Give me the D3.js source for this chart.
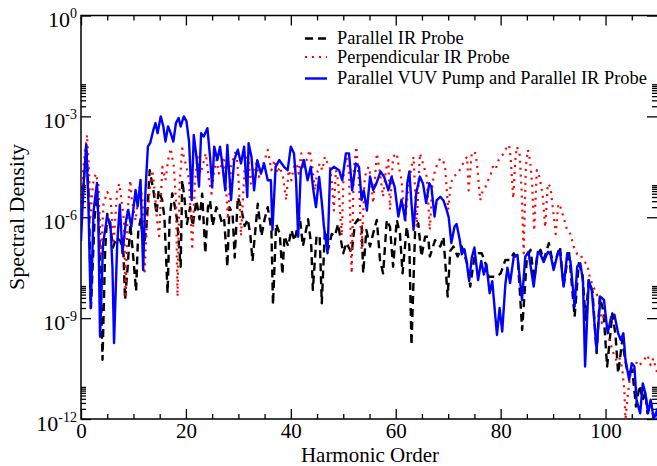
<!DOCTYPE html>
<html>
<head>
<meta charset="utf-8">
<script src="https://cdn.jsdelivr.net/npm/d3@7"></script>
<style>
  body { margin: 0; background: #fff; }
  svg { display: block; font-family: "Liberation Serif", "Times New Roman", serif; }
</style>
</head>
<body>
<script>
// harmonic order, log10(spectral density)
const parallelIR = [
  [0,-6.0],[0.5,-5.0],[1.0,-3.85],[1.5,-5.5],[1.9,-8.7],[2.6,-6.0],[3.05,-5.2],[3.6,-7.0],[4.1,-10.24],[4.6,-7.0],
  [5.0,-5.9],[5.6,-6.3],[6.1,-6.9],[6.75,-6.6],[7.5,-6.7],[8.1,-7.1],[8.4,-8.46],[8.9,-7.47],[9.4,-6.2],[9.9,-7.07],
  [10.5,-8.2],[10.9,-6.46],[11.35,-6.06],[12.0,-6.86],[12.5,-6.26],[13.1,-4.6],[13.8,-5.2],[14.4,-5.9],[14.8,-5.2],[15.5,-5.5],
  [15.9,-6.0],[16.5,-8.26],[16.9,-6.06],[17.4,-5.29],[17.8,-5.6],[18.3,-6.06],[19.0,-7.47],[19.3,-4.9],[19.7,-5.4],[20.2,-6.2],
  [20.8,-5.7],[21.3,-6.26],[22.0,-5.5],[22.6,-6.06],[23.1,-5.3],[23.7,-7.07],[24.2,-5.7],[24.6,-5.5],[25.1,-6.26],[25.8,-5.7],
  [26.4,-5.9],[26.9,-6.2],[27.3,-6.08],[27.9,-7.47],[28.3,-5.7],[28.9,-5.9],[29.3,-7.2],[29.9,-5.4],[30.5,-5.7],[31.2,-6.26],
  [31.8,-6.06],[32.3,-6.56],[32.7,-7.3],[33.7,-5.6],[34.4,-6.56],[35.0,-6.06],[35.6,-5.7],[36.3,-6.38],[36.6,-8.6],[37.2,-6.2],
  [37.9,-6.5],[38.4,-7.7],[38.8,-6.56],[39.5,-6.86],[40.1,-6.38],[40.7,-6.7],[41.7,-5.98],[42.3,-6.86],[43.3,-6.06],[43.9,-6.86],
  [44.2,-8.16],[44.9,-6.56],[45.5,-6.56],[45.9,-8.56],[46.5,-6.38],[47.1,-6.96],[47.8,-6.5],[48.4,-6.56],[49.0,-6.2],[50.0,-7.07],
  [50.6,-6.76],[51.6,-7.07],[52.2,-6.2],[52.8,-6.06],[53.5,-6.26],[53.8,-7.67],[54.4,-6.38],[55.1,-6.87],[55.7,-6.48],[56.4,-6.08],
  [57.0,-7.27],[57.6,-7.67],[58.3,-6.08],[58.9,-6.28],[59.5,-7.47],[60.2,-6.08],[60.8,-6.48],[61.3,-7.67],[62.1,-6.28],[62.6,-6.87],
  [63.0,-9.8],[63.7,-6.38],[64.3,-6.18],[64.9,-7.17],[65.6,-6.58],[66.2,-6.58],[66.5,-7.17],[67.5,-6.68],[68.5,-6.87],[69.1,-6.58],
  [69.9,-8.36],[70.4,-7.0],[71.0,-6.87],[71.8,-7.17],[72.6,-6.87],[73.6,-7.37],[74.2,-8.06],[75.0,-7.17],[75.8,-7.07],[76.4,-7.07],
  [77.1,-7.37],[77.7,-7.77],[78.6,-7.77],[79.3,-7.77],[80.0,-7.67],[80.9,-7.27],[81.8,-7.27],[82.5,-7.07],[83.3,-7.3],[84.1,-9.35],
  [85.0,-7.2],[85.7,-6.97],[86.4,-7.87],[87.0,-7.1],[87.6,-6.97],[88.2,-7.27],[89.2,-6.77],[90.1,-7.47],[91.3,-6.87],[92.0,-8.06],
  [93.0,-6.97],[94.1,-8.96],[94.9,-7.37],[95.6,-7.7],[96.2,-9.05],[96.8,-7.87],[97.5,-8.2],[98.3,-10.04],[98.9,-8.36],[99.6,-8.8],
  [100.3,-10.44],[101.3,-8.86],[101.9,-9.5],[102.4,-10.64],[103.2,-9.65],[103.7,-10.2],[104.2,-10.64],[105.1,-10.54],[105.8,-11.63],[106.5,-11.0],
  [107.1,-11.43],[107.6,-11.2],[108.0,-11.83],[108.6,-11.5],[109.2,-12.0],[110,-12.2]
];
const perpendicularIR = [
  [0,-5.7],[0.4,-4.6],[0.8,-4.0],[1.15,-3.55],[1.5,-4.5],[1.8,-6.0],[2.3,-5.0],[2.8,-4.7],[3.3,-5.0],[3.8,-7.1],
  [4.3,-5.6],[5.0,-5.25],[5.6,-5.4],[6.25,-6.7],[6.9,-5.2],[7.3,-5.0],[7.8,-5.6],[8.2,-6.1],[8.5,-8.4],[8.9,-5.8],
  [9.4,-4.9],[9.7,-5.5],[10.4,-6.1],[10.7,-5.7],[11.3,-5.0],[11.8,-5.6],[12.1,-7.7],[12.6,-6.1],[13.2,-5.0],[13.6,-4.6],
  [14.1,-5.3],[14.5,-6.1],[14.9,-6.56],[15.5,-4.5],[16.1,-4.9],[16.6,-4.3],[17.1,-3.95],[17.7,-4.5],[18.1,-5.5],[18.4,-8.36],
  [18.8,-5.0],[19.3,-3.95],[19.6,-4.2],[20.1,-4.5],[20.6,-4.9],[21.2,-6.97],[21.7,-5.0],[22.2,-4.2],[22.8,-4.7],[23.3,-4.4],
  [23.8,-4.1],[24.4,-4.9],[24.9,-5.3],[25.4,-4.6],[25.8,-4.3],[26.3,-4.7],[26.8,-4.4],[27.3,-4.2],[28.0,-6.06],[28.6,-4.5],
  [29.1,-4.2],[29.6,-4.0],[30.1,-5.0],[30.5,-6.56],[31.2,-4.5],[31.8,-4.1],[32.4,-5.0],[32.9,-4.6],[33.4,-4.4],[33.9,-4.8],
  [34.4,-4.6],[35.0,-4.3],[35.6,-4.0],[36.3,-4.6],[36.9,-4.3],[37.4,-4.7],[37.9,-4.5],[38.5,-4.8],[39.1,-5.49],[39.6,-4.6],
  [40.1,-4.9],[40.6,-4.5],[41.1,-4.4],[41.5,-4.7],[42.0,-4.1],[42.5,-4.5],[43.0,-4.3],[43.6,-4.0],[44.1,-4.5],[44.6,-5.2],
  [45.0,-4.7],[45.5,-4.4],[46.0,-4.6],[46.5,-4.2],[47.0,-4.4],[47.4,-4.5],[47.8,-4.9],[48.2,-5.8],[48.6,-4.6],[49.0,-4.9],
  [49.7,-6.56],[50.1,-4.6],[50.6,-4.2],[51.1,-4.7],[51.6,-7.67],[52.0,-4.6],[52.5,-3.9],[53.0,-5.0],[53.5,-6.96],[54.1,-4.8],
  [54.8,-4.5],[55.1,-4.69],[55.7,-5.58],[56.4,-4.1],[57.0,-4.69],[57.6,-5.39],[58.1,-4.6],[58.6,-4.3],[58.9,-5.78],[59.5,-4.2],
  [60.2,-4.1],[60.6,-4.5],[61.1,-4.89],[61.8,-6.18],[62.4,-5.09],[63.0,-4.5],[63.4,-4.2],[64.0,-6.28],[64.6,-4.1],[65.2,-4.4],
  [65.9,-4.79],[66.5,-6.38],[67.0,-5.0],[67.5,-4.59],[68.0,-4.4],[68.5,-4.25],[69.0,-4.3],[69.4,-4.49],[70.0,-5.78],[70.5,-5.0],
  [71.0,-4.79],[71.9,-4.69],[72.5,-4.5],[73.2,-4.3],[73.6,-4.2],[73.9,-5.2],[74.5,-4.1],[75.1,-4.05],[75.5,-4.4],[76.1,-5.5],
  [76.6,-5.2],[77.1,-5.1],[77.6,-4.9],[78.0,-4.79],[78.5,-4.5],[79.0,-4.59],[79.6,-4.3],[80.1,-4.2],[80.6,-4.1],[81.2,-3.9],
  [81.6,-3.85],[81.9,-4.2],[82.4,-5.44],[82.8,-4.3],[83.1,-3.9],[83.6,-4.1],[84.0,-5.2],[84.4,-7.07],[84.8,-4.5],[85.2,-4.0],
  [85.6,-4.3],[86.0,-5.0],[86.4,-6.4],[86.9,-4.6],[87.4,-4.8],[88.0,-5.3],[88.5,-6.3],[89.0,-5.0],[89.5,-5.1],[90.0,-5.8],
  [90.5,-6.5],[91.0,-5.6],[91.4,-5.7],[92.0,-6.0],[92.7,-6.4],[93.3,-6.5],[94.0,-6.9],[94.6,-7.1],[95.2,-7.1],[95.8,-7.3],
  [96.5,-7.4],[97.1,-7.87],[97.6,-8.0],[98.0,-8.2],[98.7,-8.4],[99.3,-9.15],[99.8,-8.9],[100.3,-9.2],[100.9,-9.74],[101.6,-10.1],
  [102.2,-10.3],[102.7,-10.2],[103.2,-10.5],[103.6,-11.2],[103.8,-12.0],[104.3,-11.2],[104.8,-10.6],[105.4,-10.5],[106.0,-10.3],[106.5,-10.4],
  [107.0,-10.3],[107.5,-10.2],[108.0,-10.1],[108.6,-10.4],[109.1,-10.2],[109.6,-10.5],[110,-10.7]
];
const vuvPumpIR = [
  [0,-6.7],[0.5,-5.0],[1.0,-3.85],[1.4,-5.5],[1.85,-8.7],[2.4,-5.8],[3.05,-4.98],[3.3,-6.0],[3.63,-9.55],[4.2,-6.8],
  [4.97,-5.98],[5.6,-6.17],[6.0,-7.5],[6.3,-9.74],[6.9,-6.8],[7.4,-5.63],[7.9,-7.07],[8.6,-6.08],[9.0,-5.78],[9.6,-6.28],
  [10.4,-5.19],[10.8,-5.68],[11.35,-4.89],[11.85,-7.57],[12.3,-5.19],[12.75,-3.9],[13.2,-3.79],[13.8,-3.4],[14.2,-3.2],[14.6,-3.5],
  [15.2,-3.0],[15.7,-3.3],[16.1,-3.75],[16.6,-3.3],[17.1,-3.5],[17.6,-3.75],[18.1,-3.2],[18.6,-3.05],[19.0,-3.3],[19.6,-3.0],
  [20.1,-3.14],[20.6,-3.75],[21.1,-5.49],[21.5,-3.55],[22.0,-4.2],[22.5,-5.09],[22.9,-3.5],[23.4,-3.6],[24.1,-3.35],[24.6,-4.2],
  [25.0,-5.1],[25.4,-3.9],[26.0,-4.3],[26.5,-3.9],[27.0,-4.5],[27.5,-5.2],[27.9,-3.85],[28.6,-5.49],[29.2,-4.3],[29.9,-3.99],
  [30.5,-4.4],[31.1,-3.9],[31.7,-5.4],[31.95,-3.8],[32.5,-4.2],[33.0,-5.2],[33.6,-4.3],[34.3,-4.7],[34.9,-4.4],[35.6,-4.9],
  [36.2,-4.9],[36.5,-6.38],[37.1,-4.5],[37.8,-4.3],[38.7,-4.5],[39.4,-4.6],[40.0,-3.9],[40.6,-4.1],[41.0,-4.9],[41.4,-6.58],
  [41.9,-4.6],[42.5,-4.3],[43.2,-4.9],[43.8,-4.5],[44.3,-5.2],[44.8,-5.7],[45.4,-4.8],[46.0,-5.7],[46.3,-6.26],[47.0,-7.07],
  [47.5,-4.6],[48.2,-4.5],[49.2,-4.6],[49.8,-4.9],[50.5,-4.1],[51.1,-4.1],[51.7,-5.2],[52.4,-4.4],[53.0,-4.5],[53.5,-5.49],
  [53.9,-5.2],[54.5,-5.8],[55.1,-4.79],[55.7,-5.19],[56.3,-5.0],[57.1,-4.64],[57.8,-4.8],[58.6,-5.2],[59.2,-4.8],[59.8,-5.1],
  [60.5,-5.98],[61.1,-5.48],[61.8,-6.08],[62.2,-4.99],[62.6,-4.64],[63.0,-5.58],[63.4,-6.38],[63.9,-5.29],[64.6,-4.79],[65.2,-5.0],
  [65.8,-5.58],[66.4,-4.99],[66.8,-5.1],[67.4,-5.98],[67.8,-5.5],[68.5,-5.39],[69.1,-5.5],[69.7,-5.78],[70.1,-6.0],[70.6,-6.77],
  [71.2,-6.28],[71.6,-6.2],[72.2,-6.67],[72.6,-7.1],[73.1,-6.95],[73.5,-7.3],[74.0,-7.9],[74.5,-7.2],[75.0,-6.9],[75.7,-7.87],
  [76.3,-7.3],[76.8,-7.7],[77.3,-7.4],[77.9,-8.26],[78.4,-7.9],[79.3,-9.5],[79.8,-8.7],[80.3,-9.4],[80.9,-8.0],[81.3,-7.5],
  [81.8,-7.96],[82.5,-7.17],[83.2,-7.12],[84.07,-8.46],[84.7,-7.17],[85.3,-7.03],[86.3,-8.06],[87.1,-7.03],[87.6,-7.1],[88.2,-7.33],
  [89.0,-7.03],[89.5,-7.1],[90.1,-7.57],[90.9,-7.07],[91.3,-7.0],[92.0,-8.06],[92.7,-7.07],[93.3,-7.3],[94.1,-8.66],[94.6,-7.47],
  [95.2,-7.37],[95.7,-7.9],[96.1,-10.44],[96.8,-7.87],[97.4,-8.2],[98.3,-9.95],[99.0,-8.36],[99.7,-8.46],[100.4,-9.45],[101.1,-8.95],
  [101.7,-8.9],[102.4,-9.45],[102.9,-9.65],[103.4,-9.45],[103.8,-10.24],[104.5,-10.84],[105.0,-10.34],[105.5,-10.44],[105.9,-11.43],[106.6,-11.83],
  [107.1,-10.94],[107.6,-11.24],[108.1,-11.83],[108.6,-11.43],[109.2,-12.0],[109.9,-11.7],[110,-12.2]
];

const seriesNames = ["Parallel IR Probe", "Perpendicular IR Probe", "Parallel VUV Pump and Parallel IR Probe"];
const xTicks = [0, 20, 40, 60, 80, 100];
const yTickExps = [0, -3, -6, -9, -12];

const W = 657, H = 466;
const svg = d3.select("body").append("svg").attr("width", W).attr("height", H);

const x = d3.scaleLinear().domain([0, 110]).range([81, 658]);
const y = d3.scaleLog().domain([1e-12, 1]).range([419, 15.5]);

const xMinor = d3.range(0, 111, 5).filter(v => v % 20 !== 0);
const yMajor = yTickExps.map(e => Math.pow(10, e));
const yMinor = [];
yTickExps.slice(1).forEach(e => { for (let k = 2; k <= 9; k++) yMinor.push(k * Math.pow(10, e)); });

function addAxis(axis, tr) {
  const g = svg.append("g").attr("transform", tr).call(axis);
  g.select(".domain").remove();
  g.selectAll("line").attr("stroke", "#000").attr("stroke-width", 1.3);
  g.attr("font-family", null).attr("font-size", null);
  return g;
}

// bottom / top
const xb = addAxis(d3.axisBottom(x).tickValues(xTicks).tickSize(-10).tickPadding(4).tickFormat(d3.format("d")), "translate(0,419)");
xb.selectAll("text").attr("font-size", 21).attr("fill", "#000");
addAxis(d3.axisBottom(x).tickValues(xMinor).tickSize(-5).tickFormat(""), "translate(0,419)");
addAxis(d3.axisTop(x).tickValues(xTicks).tickSize(-10).tickFormat(""), "translate(0,15.5)");
addAxis(d3.axisTop(x).tickValues(xMinor).tickSize(-5).tickFormat(""), "translate(0,15.5)");
// left / right
addAxis(d3.axisLeft(y).tickValues(yMajor).tickSize(-10).tickFormat(""), "translate(81,0)");
addAxis(d3.axisLeft(y).tickValues(yMinor).tickSize(-5).tickFormat(""), "translate(81,0)");
addAxis(d3.axisRight(y).tickValues(yMajor).tickSize(-10).tickFormat(""), "translate(657,0)");
addAxis(d3.axisRight(y).tickValues(yMinor).tickSize(-5).tickFormat(""), "translate(657,0)");

// frame
svg.append("rect").attr("x", 81).attr("y", 15.5).attr("width", 577).attr("height", 403.5)
  .attr("fill", "none").attr("stroke", "#000").attr("stroke-width", 1.5);

// y tick labels 10^n
const yl = svg.append("g").selectAll("text").data(yTickExps).enter().append("text")
  .attr("x", 77).attr("y", d => y(Math.pow(10, d)) + 11.5)
  .attr("text-anchor", "end").attr("font-size", 22);
yl.append("tspan").text("10");
yl.append("tspan").attr("dy", -9).attr("font-size", 14).text(d => String(d));

// clip
svg.append("clipPath").attr("id", "clip").append("rect")
  .attr("x", 81).attr("y", 15.5).attr("width", 577).attr("height", 403.5);

const line = d3.line().x(d => x(d[0])).y(d => y(Math.pow(10, d[1])));
const styles = [
  { data: parallelIR, color: "#000", dash: "8,5", width: 2.4 },
  { data: perpendicularIR, color: "#ff0000", dash: "2,5", width: 2.2 },
  { data: vuvPumpIR, color: "#0000ff", dash: null, width: 2.4 }
];
const plot = svg.append("g").attr("clip-path", "url(#clip)");
styles.forEach(s => {
  plot.append("path").datum(s.data).attr("d", line)
    .attr("fill", "none").attr("stroke", s.color).attr("stroke-width", s.width)
    .attr("stroke-dasharray", s.dash).attr("stroke-linejoin", "round");
});

// legend
const legY = [38.5, 57, 78.5];
const leg = svg.append("g").selectAll("g").data(styles).enter().append("g")
  .attr("transform", (d, i) => `translate(0,${legY[i]})`);
leg.append("line").attr("x1", 305).attr("x2", 327)
  .attr("stroke", d => d.color).attr("stroke-width", d => d.width).attr("stroke-dasharray", d => d.dash);
leg.append("text").attr("x", 337).attr("y", 5.5).attr("font-size", 18.4)
  .text((d, i) => seriesNames[i]);

// axis titles
svg.append("text").attr("x", 370).attr("y", 461.5).attr("text-anchor", "middle")
  .attr("font-size", 21).text("Harmonic Order");
svg.append("text").attr("transform", "translate(24,217) rotate(-90)").attr("text-anchor", "middle")
  .attr("font-size", 22).text("Spectral Density");
</script>
</body>
</html>
